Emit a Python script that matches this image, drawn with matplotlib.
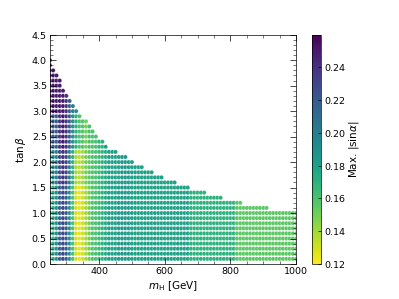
import numpy as np
import matplotlib
matplotlib.use("Agg")
import matplotlib.pyplot as plt
from matplotlib.ticker import MultipleLocator

# scan grid
mh_grid = np.arange(250, 1001, 10)
tb_rows = np.round(np.arange(0.1, 4.01, 0.1), 1)

# largest m_H reached by each tan(beta) row (rows <= 1.0 reach 1000)
row_tb = [4.0, 3.9, 3.8, 3.7, 3.6, 3.5, 3.4, 3.3, 3.2, 3.1, 3.0, 2.9, 2.8, 2.7,
          2.6, 2.5, 2.4, 2.3, 2.2, 2.1, 2.0, 1.9, 1.8, 1.7, 1.6, 1.5, 1.4, 1.3,
          1.2, 1.1, 1.0]
row_mhmax = [250, 250, 260, 270, 280, 280, 290, 300, 310, 320, 330, 340, 360, 370,
             380, 390, 410, 420, 450, 480, 500, 530, 560, 590, 630, 670, 720, 770,
             830, 910, 1000]

# max |sin a| per column for m_H = 250..460, in four tan(beta) bands
mh_left = np.arange(250, 461, 10)
sina_low = [0.19, 0.17, 0.19, 0.22, 0.23, 0.22, 0.19, 0.16, 0.13, 0.125, 0.13,
            0.14, 0.15, 0.16, 0.16, 0.165, 0.17, 0.175, 0.18, 0.18, 0.18, 0.185]
sina_mid = [0.20, 0.19, 0.20, 0.23, 0.24, 0.23, 0.20, 0.17, 0.14, 0.135, 0.14,
            0.15, 0.155, 0.16, 0.16, 0.165, 0.17, 0.175, 0.18, 0.18, 0.18, 0.18]
sina_high = [0.23, 0.22, 0.22, 0.24, 0.25, 0.24, 0.22, 0.19, 0.17, 0.16, 0.16,
             0.15, 0.16, 0.16, 0.16, 0.17, 0.17, 0.18, 0.18, 0.18, 0.18, 0.18]
sina_top = [0.25, 0.25, 0.25, 0.25, 0.25, 0.24, 0.22, 0.20, 0.19, 0.18, 0.17,
            0.17, 0.17, 0.17, 0.17, 0.17, 0.17, 0.18, 0.18, 0.18, 0.18, 0.18]
tb_band_edges = [1.5, 2.2, 2.9]

# heavier m_H: coarse bands
mh_band_start = [470, 500, 680, 820]
sina_band = [0.185, 0.18, 0.17, 0.155]

limit = dict(zip(row_tb, row_mhmax))
xs, ys, cs = [], [], []
for tb in tb_rows:
    mmax = limit.get(tb, 1000)
    band = int(np.searchsorted(tb_band_edges, tb - 1e-9))
    table = [sina_low, sina_mid, sina_high, sina_top][band]
    for m in mh_grid:
        if m > mmax:
            continue
        if m <= 460:
            v = table[int((m - 250) // 10)]
        else:
            v = sina_band[int(np.searchsorted(mh_band_start, m, side="right")) - 1]
        xs.append(m)
        ys.append(tb)
        cs.append(v)

fig = plt.figure(figsize=(6.4, 4.8), dpi=62.35)
ax = fig.add_axes([0.125, 0.117, 0.617, 0.766])
cax = fig.add_axes([0.782, 0.117, 0.023, 0.766])

sc = ax.scatter(xs, ys, c=cs, cmap="viridis_r", vmin=0.12, vmax=0.26,
                s=24, edgecolors="white", linewidths=0.3)
ax.set_xlim(250, 1000)
ax.set_ylim(0, 4.5)
ax.xaxis.set_major_locator(MultipleLocator(200))
ax.xaxis.set_minor_locator(MultipleLocator(50))
ax.yaxis.set_major_locator(MultipleLocator(0.5))
ax.yaxis.set_minor_locator(MultipleLocator(0.1))
ax.tick_params(which="both", direction="in", top=True, right=True, labelsize=11)
ax.tick_params(which="major", length=7)
ax.tick_params(which="minor", length=4)
ax.set_xlabel(r"$m_{\rm H}$ [GeV]", fontsize=12, labelpad=3)
ax.set_ylabel(r"$\tan\beta$", fontsize=12)

cb = fig.colorbar(sc, cax=cax)
cb.set_ticks([0.12, 0.14, 0.16, 0.18, 0.20, 0.22, 0.24])
cb.ax.tick_params(labelsize=11, direction="in")
cb.set_label(r"Max. |sin$\alpha$|", fontsize=12, labelpad=2)

fig.savefig("out.png", dpi=62.35)
